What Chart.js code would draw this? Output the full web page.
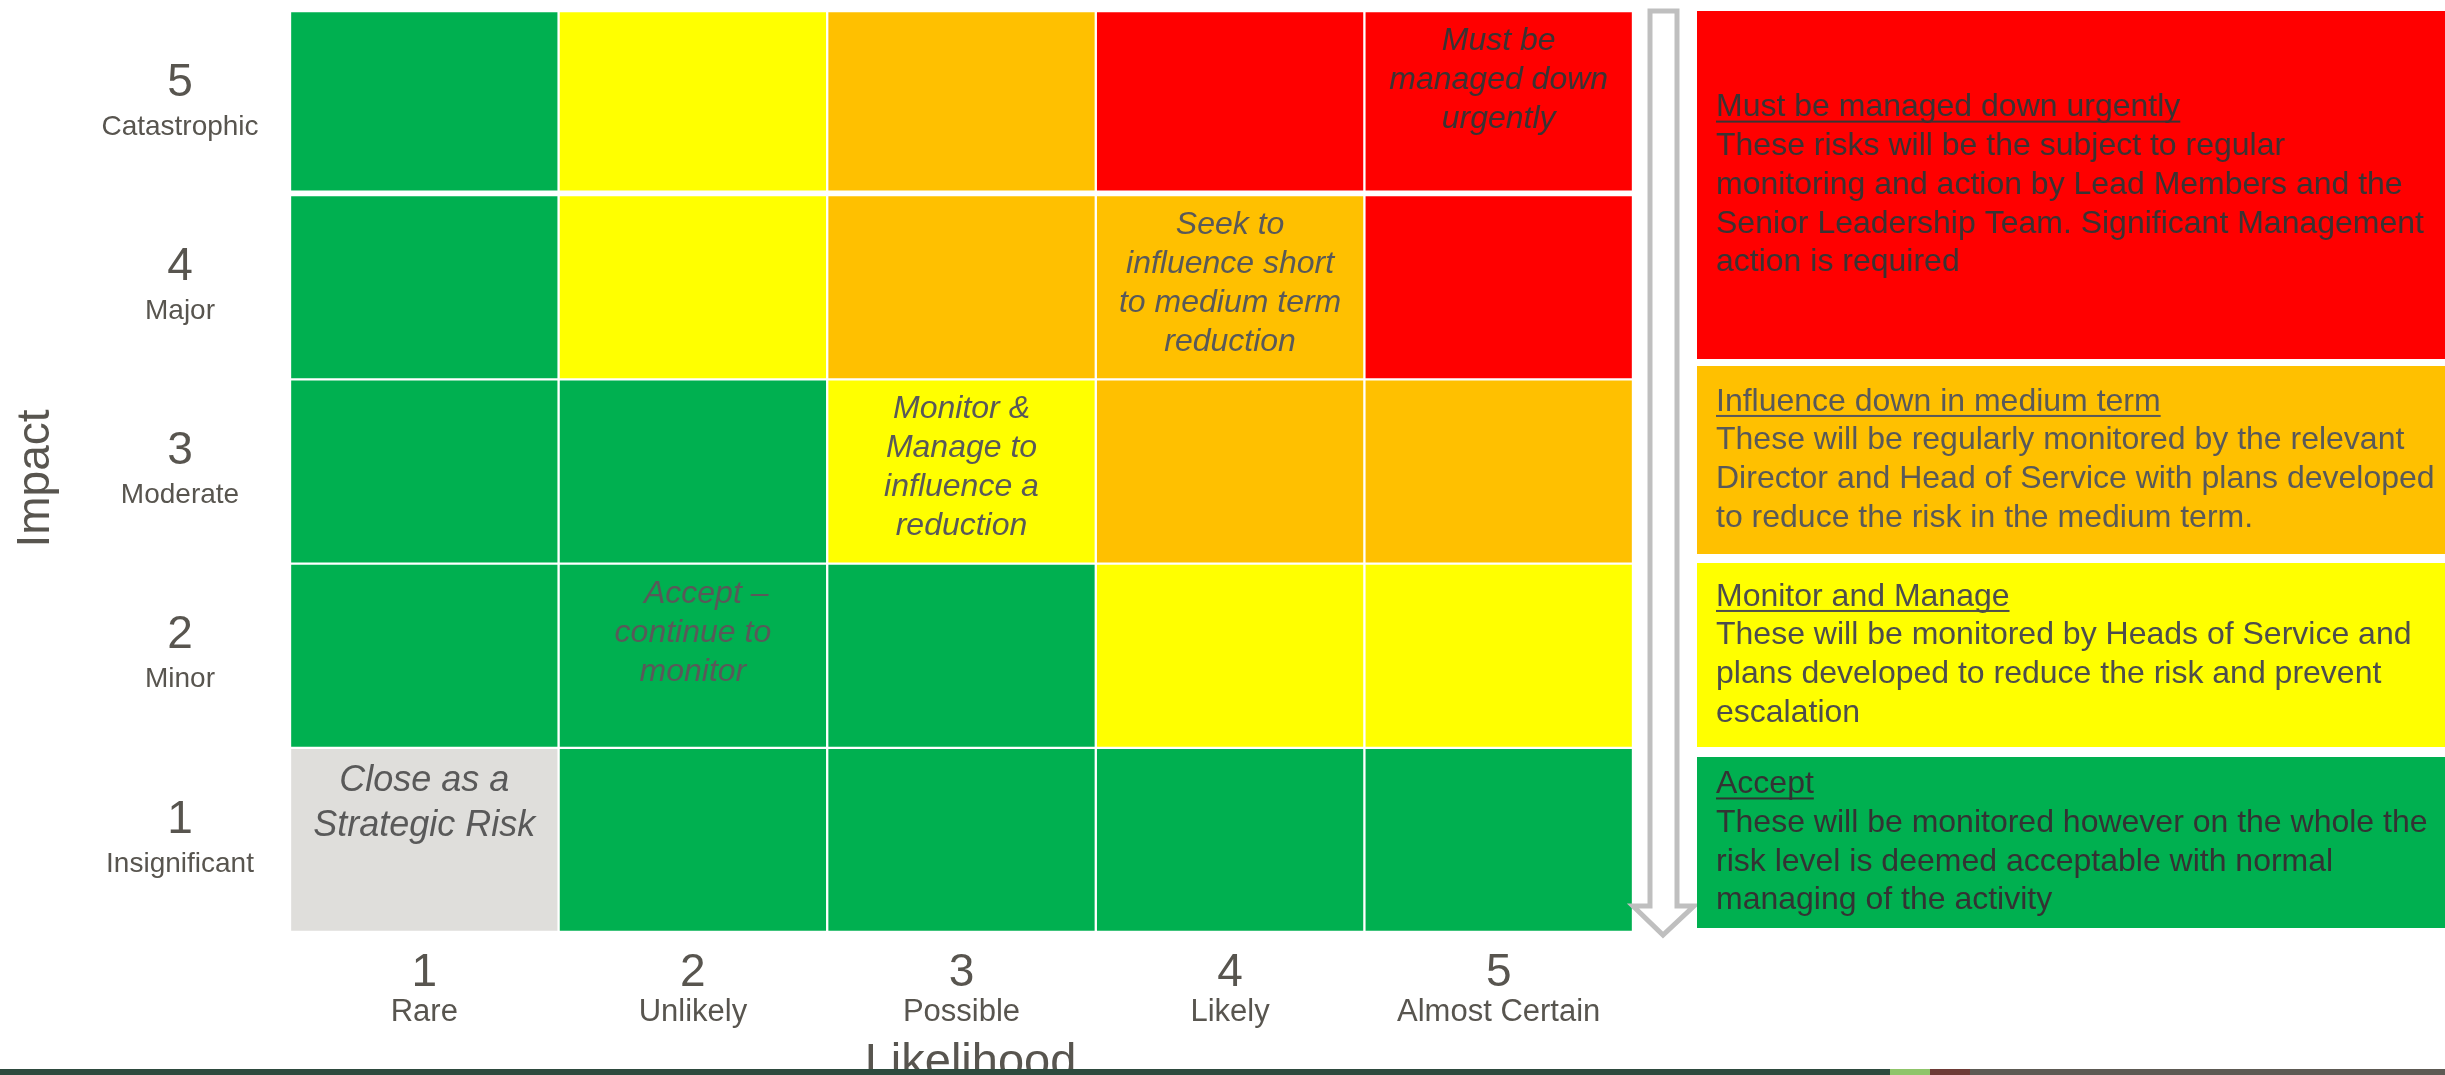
<!DOCTYPE html>
<html>
<head>
<meta charset="utf-8">
<title>Risk matrix</title>
<script src="https://cdn.jsdelivr.net/npm/chart.js@4.4.1/dist/chart.umd.min.js"></script>
<style>
  html, body { margin: 0; padding: 0; background: #fff; }
  canvas { display: block; }
</style>
</head>
<body>
<canvas id="riskMatrix" width="2445" height="1075"></canvas>
<script>
const likelihoodLevels = ['1', '2', '3', '4', '5'];
const likelihoodNames = ['Rare', 'Unlikely', 'Possible', 'Likely', 'Almost Certain'];
const impactLevels = [1, 2, 3, 4, 5];
const impactNames = ['Insignificant', 'Minor', 'Moderate', 'Major', 'Catastrophic'];

// one row per impact level (Insignificant first), columns = likelihood 1..5
const ratings = [
  ['close', 'accept', 'accept', 'accept', 'accept'],
  ['accept', 'accept', 'accept', 'monitor', 'monitor'],
  ['accept', 'accept', 'monitor', 'influence', 'influence'],
  ['accept', 'monitor', 'influence', 'influence', 'urgent'],
  ['accept', 'monitor', 'influence', 'urgent', 'urgent']
];

const ratingColours = {
  urgent: '#ff0000',
  influence: '#ffc000',
  monitor: '#ffff00',
  accept: '#00b050',
  close: '#dfdedb'
};

// italic notes written inside some cells
const cellNotes = [
  { likelihood: 5, impact: 5, lines: ['Must be', 'managed down', 'urgently'] },
  { likelihood: 4, impact: 4, lines: ['Seek to', 'influence short', 'to medium term', 'reduction'] },
  { likelihood: 3, impact: 3, lines: ['Monitor &', 'Manage to', 'influence a', 'reduction'] },
  { likelihood: 2, impact: 2, lines: ['\u00a0\u00a0\u00a0Accept \u2013', 'continue to', 'monitor'] },
  { likelihood: 1, impact: 1, lines: ['Close as a', 'Strategic Risk'] }
];

// key on the right
const keyRatings = ['urgent', 'influence', 'monitor', 'accept'];
const keyTitles = ['Must be managed down urgently', 'Influence down in medium term', 'Monitor and Manage', 'Accept'];
const keyTexts = [
  ['These risks will be the subject to regular', 'monitoring and action by Lead Members and the', 'Senior Leadership Team. Significant Management', 'action is required'],
  ['These will be regularly monitored by the relevant', 'Director and Head of Service with plans developed', 'to reduce the risk in the medium term.'],
  ['These will be monitored by Heads of Service and', 'plans developed to reduce the risk and prevent', 'escalation'],
  ['These will be monitored however on the whole the', 'risk level is deemed acceptable with normal', 'managing of the activity']
];

const FONT = '"Liberation Sans", Arial, sans-serif';
const INK = '#58554f';

const matrixDecor = {
  id: 'matrixDecor',
  afterDatasetsDraw(chart) {
    const { ctx, chartArea, scales: { x, y } } = chart;
    const W = chart.width;
    ctx.save();
    ctx.textAlign = 'center';
    ctx.textBaseline = 'middle';

    // notes inside cells
    cellNotes.forEach(note => {
      const kind = ratings[note.impact - 1][note.likelihood - 1];
      const cx = x.getPixelForValue(note.likelihood - 1);
      const top = y.getPixelForValue(note.impact);
      const big = kind === 'close';
      const step = big ? 45 : 39;
      ctx.font = `italic ${big ? 36 : 32}px ${FONT}`;
      ctx.fillStyle = kind === 'urgent' ? '#3a3333' : '#595959';
      note.lines.forEach((line, i) => ctx.fillText(line, cx, top + (big ? 33 : 30) + i * step));
    });

    // impact ticks
    ctx.fillStyle = INK;
    const lx = chartArea.left - 110;
    impactLevels.forEach((v, i) => {
      const mid = (y.getPixelForValue(v) + y.getPixelForValue(v - 1)) / 2;
      ctx.font = `46px ${FONT}`;
      ctx.fillText(String(v), lx, mid - 20);
      ctx.font = `28px ${FONT}`;
      ctx.fillText(impactNames[i], lx, mid + 24);
    });

    // likelihood ticks
    likelihoodLevels.forEach((lab, i) => {
      const cx = x.getPixelForValue(i);
      ctx.font = `46px ${FONT}`;
      ctx.fillText(lab, cx, chartArea.bottom + 41);
      ctx.font = `31px ${FONT}`;
      ctx.fillText(likelihoodNames[i], cx, chartArea.bottom + 80);
    });

    // axis titles
    ctx.font = `47px ${FONT}`;
    ctx.textBaseline = 'alphabetic';
    ctx.fillText('Likelihood', (chartArea.left + chartArea.right) / 2 + 9, 1076);
    ctx.save();
    ctx.translate(49, (chartArea.top + chartArea.bottom) / 2 + 7);
    ctx.rotate(-Math.PI / 2);
    ctx.font = `46px ${FONT}`;
    ctx.fillText('Impact', 0, 0);
    ctx.restore();

    // hollow down arrow
    const ax = chartArea.right;
    ctx.beginPath();
    ctx.moveTo(ax + 17, chartArea.top);
    ctx.lineTo(ax + 44, chartArea.top);
    ctx.lineTo(ax + 44, 906);
    ctx.lineTo(ax + 61, 906);
    ctx.lineTo(ax + 30, 935);
    ctx.lineTo(ax, 906);
    ctx.lineTo(ax + 17, 906);
    ctx.closePath();
    ctx.fillStyle = '#ffffff';
    ctx.fill();
    ctx.lineWidth = 5;
    ctx.strokeStyle = '#bfbfbf';
    ctx.lineJoin = 'miter';
    ctx.stroke();

    // key boxes
    const boxes = [[11, 359], [366, 554], [563, 747], [757, 928]];
    const keyInk = { urgent: '#3a3333', influence: '#595959', monitor: '#4d4d4d', accept: '#333333' };
    const bx = ax + 64;
    const tx = bx + 19;
    const step = 38.7;
    ctx.textAlign = 'left';
    ctx.textBaseline = 'middle';
    ctx.font = `32px ${FONT}`;
    keyRatings.forEach((k, i) => {
      const [t, b] = boxes[i];
      ctx.fillStyle = ratingColours[k];
      ctx.fillRect(bx, t, W - bx, b - t);
      const lines = [keyTitles[i], ...keyTexts[i]];
      const first = (t + b) / 2 - (lines.length - 1) * step / 2;
      ctx.fillStyle = keyInk[k];
      lines.forEach((line, j) => ctx.fillText(line, tx, first + j * step));
      const w = ctx.measureText(keyTitles[i]).width;
      ctx.fillRect(tx, first + 13, w, 2);
    });

    // footer strip
    ctx.fillStyle = '#2e4a3e';
    ctx.fillRect(0, 1069, 1890, 6);
    ctx.fillStyle = '#8fc46a';
    ctx.fillRect(1890, 1069, 40, 6);
    ctx.fillStyle = '#6e3b36';
    ctx.fillRect(1930, 1069, 40, 6);
    ctx.fillStyle = '#5d5a54';
    ctx.fillRect(1970, 1069, W - 1970, 6);
    ctx.restore();
  }
};

new Chart(document.getElementById('riskMatrix'), {
  type: 'bar',
  data: {
    labels: likelihoodLevels,
    datasets: impactLevels.map((impact, r) => ({
      label: impactNames[r],
      data: likelihoodLevels.map(() => 1),
      backgroundColor: ratings[r].map(k => ratingColours[k]),
      borderColor: '#ffffff',
      borderWidth: impact === 5 ? { top: 1.5, left: 1.5, right: 1.5, bottom: 5 } : 1.5,
      borderSkipped: false,
      barPercentage: 1,
      categoryPercentage: 1
    }))
  },
  options: {
    responsive: false,
    devicePixelRatio: 1,
    animation: false,
    layout: { padding: { left: 290, top: 11, right: 812, bottom: 143 } },
    plugins: { legend: { display: false }, tooltip: { enabled: false } },
    scales: {
      x: { stacked: true, display: false },
      y: { stacked: true, display: false, min: 0, max: 5 }
    }
  },
  plugins: [matrixDecor]
});
</script>
</body>
</html>
